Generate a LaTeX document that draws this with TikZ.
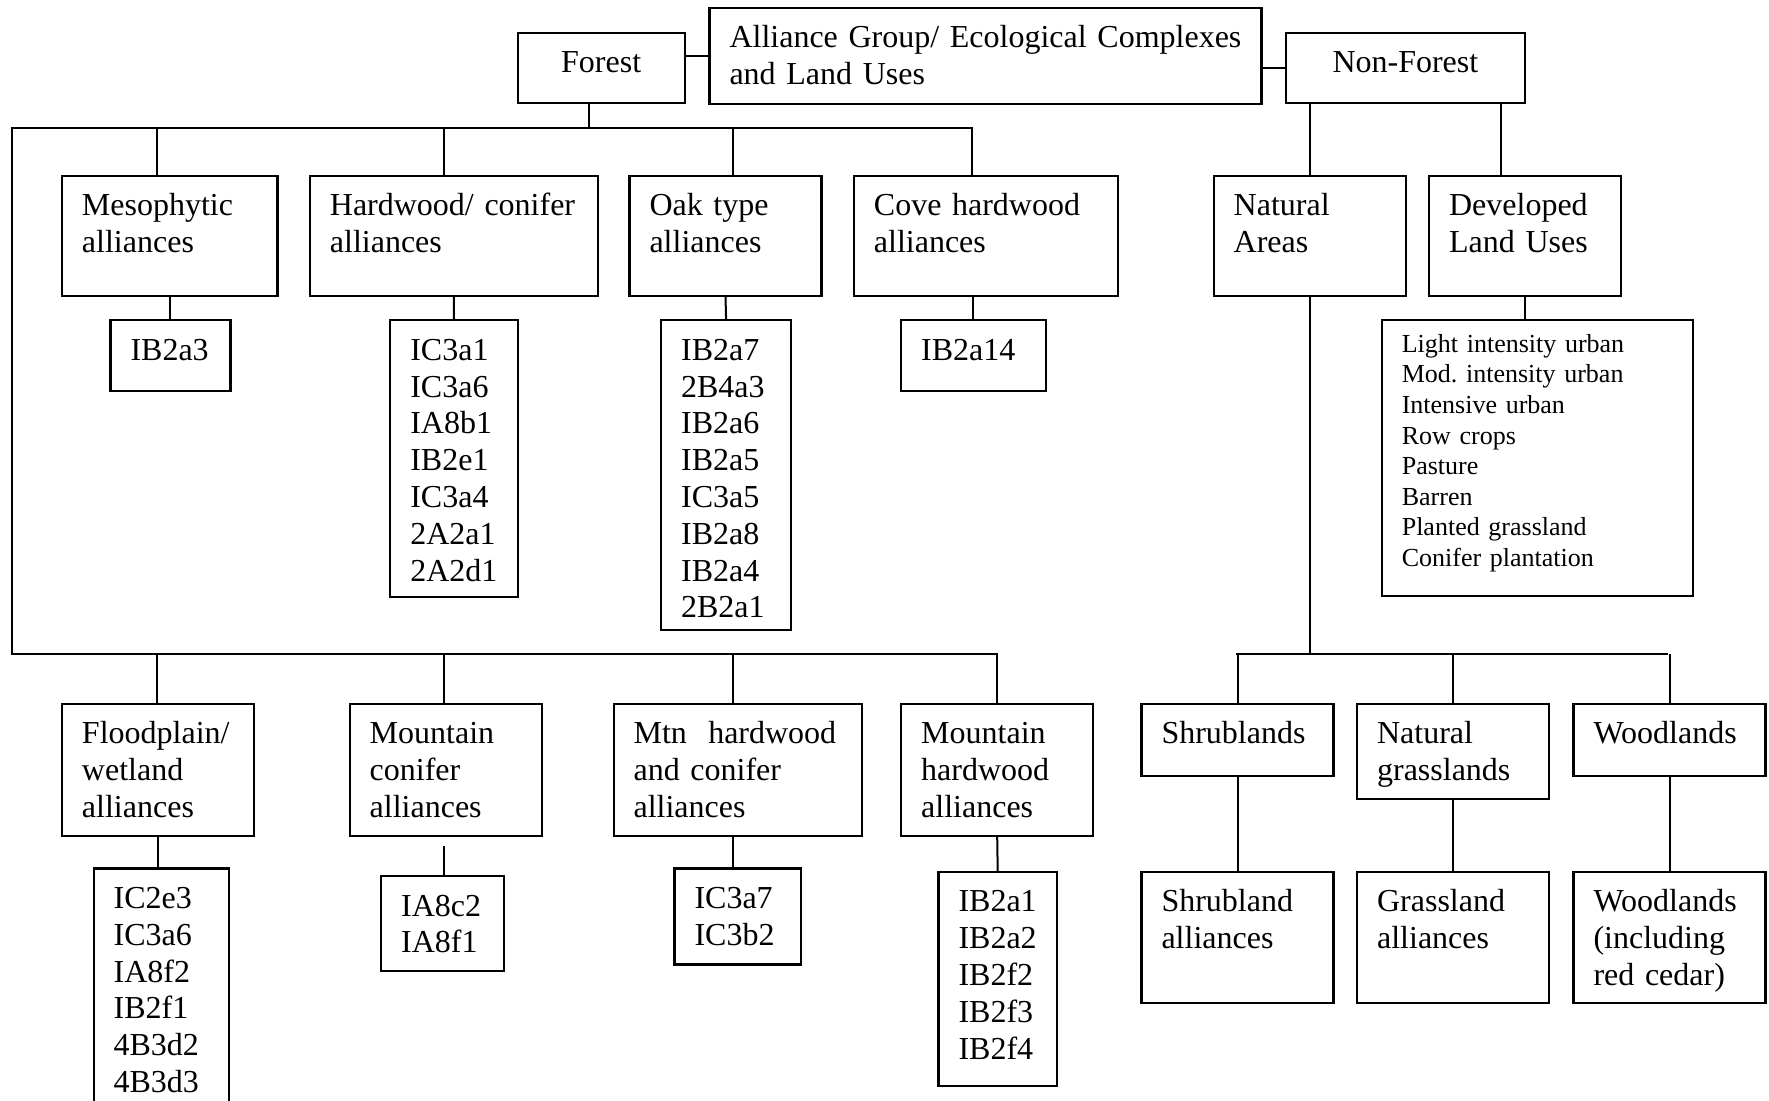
\documentclass[tikz,border=0pt]{standalone}
\usepackage{fontspec}
\setmainfont{Liberation Serif}
\frenchspacing
\tikzset{
  box/.style 2 args={draw, line width=1.1pt, anchor=north west, align=left,
    inner xsep=10pt, inner ysep=0pt, text height=20pt,
    text width={#1*0.5pt-20pt}, text depth={#2*0.5pt-20pt}},
  head/.style 2 args={box={#1}{#2}, align=center, text height=20pt,
    text depth={#2*0.5pt-20pt}},
  link/.style={line width=1pt},
}
\begin{document}
\begin{tikzpicture}[x=0.5pt, y=-0.5pt, font=\fontsize{16}{18.4}\selectfont]
    \useasboundingbox (0,0) rectangle (1769,1100);
    \clip (0,0) rectangle (1769,1100);
    \fill[white] (0,0) rectangle (1769,1100);
    % top
    \node[head={167}{70}] (forest) at (516.6,31.6) {Forest};
    \node[box={552}{96}] (title) at (708.4,6.8) {Alliance Group/ Ecological Complexes\\and Land Uses};
    \node[head={239}{70}] (nonforest) at (1284.8,31.6) {Non-Forest};
    % forest, upper row
    \node[box={215.5}{120}] (meso) at (60.9,174.5) {Mesophytic\\alliances};
    \node[box={288}{120}] (hwc) at (308.8,174.5) {Hardwood/ conifer\\alliances};
    \node[box={192}{120}] (oak) at (628.4,174.5) {Oak type\\alliances};
    \node[box={264}{120}] (cove) at (852.8,174.5) {Cove hardwood\\alliances};
    \node[box={120}{71}] (ib2a3) at (109.4,319.2) {IB2a3};
    \node[box={127.4}{276.4}] (hwlist) at (389.2,319.2) {IC3a1\\IC3a6\\IA8b1\\IB2e1\\IC3a4\\2A2a1\\2A2d1};
    \node[box={130}{310}] (oaklist) at (660,319.2) {IB2a7\\2B4a3\\IB2a6\\IB2a5\\IC3a5\\IB2a8\\IB2a4\\2B2a1};
    \node[box={144.5}{71}] (ib2a14) at (900,319.2) {IB2a14};
    % forest, lower row
    \node[box={192}{132}] (flood) at (60.9,702.7) {Floodplain/\\wetland\\alliances};
    \node[box={192}{132}] (mconif) at (348.6,702.7) {Mountain\\conifer\\alliances};
    \node[box={248.5}{132}] (mtnhw) at (612.5,702.7) {Mtn~ hardwood\\and conifer\\alliances};
    \node[box={192}{132}] (mhw) at (900.1,702.7) {Mountain\\hardwood\\alliances};
    \node[box={135.5}{260}] (floodlist) at (92.5,867.4) {IC2e3\\IC3a6\\IA8f2\\IB2f1\\4B3d2\\4B3d3};
    \node[box={123}{95}] (mclist) at (380.1,875) {IA8c2\\IA8f1};
    \node[box={126.4}{96}] (mhclist) at (673.4,867.4) {IC3a7\\IC3b2};
    \node[box={118.4}{214.3}] (mhwlist) at (937.4,870.8) {IB2a1\\IB2a2\\IB2f2\\IB2f3\\IB2f4};
    % non-forest
    \node[box={192}{120}] (natural) at (1212.6,174.5) {Natural\\Areas};
    \node[box={192}{120}] (developed) at (1428,174.5) {Developed\\Land Uses};
    \node[box={311.5}{275.5}, font=\fontsize{13}{15.3}\selectfont, text height=16pt,
      text depth={275.5*0.5pt-16pt}] (devlist) at (1380.7,319.2)
      {Light intensity urban\\Mod. intensity urban\\Intensive urban\\Row crops\\Pasture\\Barren\\Planted grassland\\Conifer plantation};
    \node[box={192}{72}] (shrub) at (1140.4,702.7) {Shrublands};
    \node[box={192}{95}] (natgrass) at (1356,702.7) {Natural\\grasslands};
    \node[box={192}{72}] (woodl) at (1572.4,702.7) {Woodlands};
    \node[box={192}{131}] (shrubal) at (1140.4,870.8) {Shrubland\\alliances};
    \node[box={192}{131}] (grassal) at (1356,870.8) {Grassland\\alliances};
    \node[box={192}{131}] (woodal) at (1572.4,870.8) {Woodlands\\(including\\red cedar)};
    % bus points
    \coordinate (fb) at (589,127.5);
    \coordinate (ul) at (12.4,127.5);
    \coordinate (ur) at (972.3,127.5);
    \coordinate (ll) at (12.4,654.2);
    \coordinate (lr) at (997,654.2);
    \coordinate (d1) at (157,127.5);
    \coordinate (d2) at (444.4,127.5);
    \coordinate (d3) at (733.2,127.5);
    \coordinate (e1) at (157,654.2);
    \coordinate (e2) at (444.4,654.2);
    \coordinate (e3) at (733.2,654.2);
    \coordinate (mcgap) at (444.4,846);
    \coordinate (dv) at (1501,174.5);
    \coordinate (nl) at (1236.4,654.2);
    \coordinate (nr) at (1668.4,654.2);
    % links
    \draw[link] (title.west) -- (title.west -| forest.east);
    \draw[link] (nonforest.west) -- (nonforest.west -| title.east);
    \draw[link] (forest.south -| fb) -- (fb);
    \draw[link] (ur |- cove.north) -- (ur) -- (ul) -- (ll) -- (lr) -- (lr |- mhw.north);
    \draw[link] (d1) -- (d1 |- meso.north);
    \draw[link] (d2) -- (d2 |- hwc.north);
    \draw[link] (d3) -- (d3 |- oak.north);
    \draw[link] (e1) -- (e1 |- flood.north);
    \draw[link] (e2) -- (e2 |- mconif.north);
    \draw[link] (e3) -- (e3 |- mtnhw.north);
    \draw[link] (meso.south) -- (meso.south |- ib2a3.north);
    \draw[link] (hwc.south) -- (hwlist.north);
    \draw[link] (oak.south) -- (oaklist.north);
    \draw[link] (ib2a14.north) -- (ib2a14.north |- cove.south);
    \draw[link] (flood.south) -- (flood.south |- floodlist.north);
    \draw[link] (mcgap) -- (mcgap |- mclist.north);
    \draw[link] (e3 |- mtnhw.south) -- (e3 |- mhclist.north);
    \draw[link] (mhw.south) -- (mhwlist.north);
    \draw[link] (natural.north) -- (natural.north |- nonforest.south);
    \draw[link] (dv) -- (dv |- nonforest.south);
    \draw[link] (developed.south) -- (developed.south |- devlist.north);
    \draw[link] (natural.south) -- (natural.south |- nl);
    \draw[link] (nl) -- (nr);
    \draw[link] (shrub.north) -- (shrub.north |- nl);
    \draw[link] (natgrass.north) -- (natgrass.north |- nl);
    \draw[link] (woodl.north) -- (woodl.north |- nl);
    \draw[link] (shrub.south) -- (shrubal.north);
    \draw[link] (natgrass.south) -- (grassal.north);
    \draw[link] (woodl.south) -- (woodal.north);
\end{tikzpicture}
\end{document}
